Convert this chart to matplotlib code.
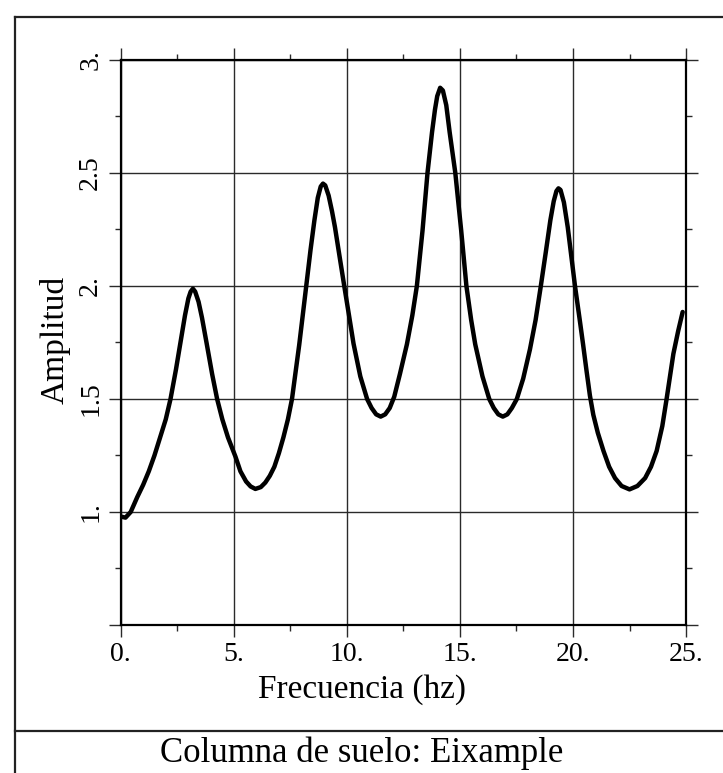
import matplotlib.pyplot as plt
from matplotlib.lines import Line2D
from matplotlib.ticker import FixedLocator

plt.rcParams['font.family'] = ['Liberation Serif', 'DejaVu Serif']

# curve
freq = [0.0, 0.22, 0.45, 0.74, 1.0, 1.25, 1.5, 1.75, 2.0, 2.21, 2.45, 2.65, 2.85, 3.0,
        3.1, 3.2, 3.3, 3.45, 3.6, 3.8, 4.05, 4.27, 4.5, 4.75, 5.08, 5.3, 5.55, 5.75, 5.96,
        6.2, 6.4, 6.6, 6.8, 7.0, 7.2, 7.4, 7.58, 7.9, 8.21, 8.4, 8.57, 8.72, 8.85, 8.95,
        9.05, 9.2, 9.35, 9.48, 9.7, 9.89, 10.1, 10.3, 10.6, 10.9, 11.1, 11.3, 11.5, 11.7,
        11.9, 12.1, 12.35, 12.66, 12.9, 13.1, 13.35, 13.57, 13.77, 13.9, 14.0, 14.13, 14.25,
        14.4, 14.55, 14.8, 15.06, 15.29, 15.5, 15.68, 16.0, 16.3, 16.5, 16.7, 16.9, 17.1,
        17.3, 17.52, 17.8, 18.1, 18.35, 18.58, 18.8, 19.0, 19.15, 19.27, 19.36, 19.45, 19.6,
        19.77, 20.09, 20.3, 20.45, 20.6, 20.75, 20.9, 21.1, 21.35, 21.6, 21.86, 22.15, 22.5,
        22.85, 23.19, 23.45, 23.7, 23.95, 24.14, 24.44, 24.65, 24.85]
amp = [0.98, 0.975, 1.0, 1.066, 1.12, 1.18, 1.25, 1.33, 1.41, 1.5, 1.63, 1.75, 1.87, 1.945,
       1.975, 1.988, 1.975, 1.93, 1.86, 1.75, 1.61, 1.5, 1.41, 1.33, 1.245, 1.18, 1.135, 1.113,
       1.102, 1.11, 1.13, 1.16, 1.2, 1.26, 1.33, 1.41, 1.5, 1.74, 2.0, 2.16, 2.29, 2.39, 2.44,
       2.453, 2.445, 2.4, 2.33, 2.26, 2.12, 2.0, 1.87, 1.745, 1.6, 1.5, 1.46, 1.432, 1.422,
       1.432, 1.46, 1.51, 1.61, 1.742, 1.87, 2.0, 2.245, 2.5, 2.68, 2.78, 2.84, 2.877, 2.865,
       2.8, 2.68, 2.5, 2.245, 2.0, 1.85, 1.742, 1.6, 1.5, 1.46, 1.432, 1.422, 1.432,
       1.46, 1.5, 1.59, 1.72, 1.85, 2.0, 2.15, 2.29, 2.375, 2.42, 2.432, 2.425, 2.37,
       2.26, 2.0, 1.85, 1.74, 1.625, 1.515, 1.43, 1.35, 1.27, 1.2, 1.15, 1.115, 1.1,
       1.115, 1.15, 1.2, 1.27, 1.38, 1.5, 1.7, 1.8, 1.885]

xticks = [0, 5, 10, 15, 20, 25]
xlabels = ['0.', '5.', '10.', '15.', '20.', '25.']
yticks = [0.5, 1, 1.5, 2, 2.5, 3]
ylabels = ['', '1.', '1.5', '2.', '2.5', '3.']
xminor = [2.5, 7.5, 12.5, 17.5, 22.5]
yminor = [0.75, 1.25, 1.75, 2.25, 2.75]

fig = plt.figure(figsize=(7.23, 7.73), dpi=100)
ax = fig.add_axes([0.1667, 0.1915, 0.7822, 0.7309])

ax.plot(freq, amp, color='black', lw=3.2, solid_capstyle='round',
        solid_joinstyle='round', zorder=3)

ax.set_xlim(0, 25)
ax.set_ylim(0.5, 3)
ax.set_xticks(xticks, xlabels)
ax.set_yticks(yticks, ylabels)
ax.xaxis.set_minor_locator(FixedLocator(xminor))
ax.yaxis.set_minor_locator(FixedLocator(yminor))
ax.grid(True, which='major', color='#2a2a2a', lw=1.0)

ax.tick_params(which='both', direction='out', top=True, right=True, color='#2a2a2a')
ax.tick_params(which='major', length=8.5, width=1.0, labelsize=20, pad=4)
ax.tick_params(which='minor', length=4.5, width=1.0)
ax.tick_params(axis='y', labelrotation=90)
for lab in ax.get_yticklabels():
    lab.set_va('center')

for s in ax.spines.values():
    s.set_linewidth(1.6)
    s.set_color('black')

fig.text(0.5, 1 - 690 / 773, 'Frecuencia (hz)', ha='center', va='center', fontsize=24)
fig.text(55 / 723, 1 - 340 / 773, 'Amplitud', rotation=90, ha='center', va='center', fontsize=24)
fig.text(0.5, 1 - 753 / 773, 'Columna de suelo: Eixample', ha='center', va='center', fontsize=25)

# outer frame and separator
bx, by = 15 / 723, 1 - 17 / 773
sep = 1 - 731 / 773
for xs, ys in [([bx, bx], [0, by]), ([bx, 1], [by, by]), ([bx, 1], [sep, sep])]:
    fig.add_artist(Line2D(xs, ys, transform=fig.transFigure, color='#222222', lw=1.6))

fig.savefig('out.png', dpi=100)
